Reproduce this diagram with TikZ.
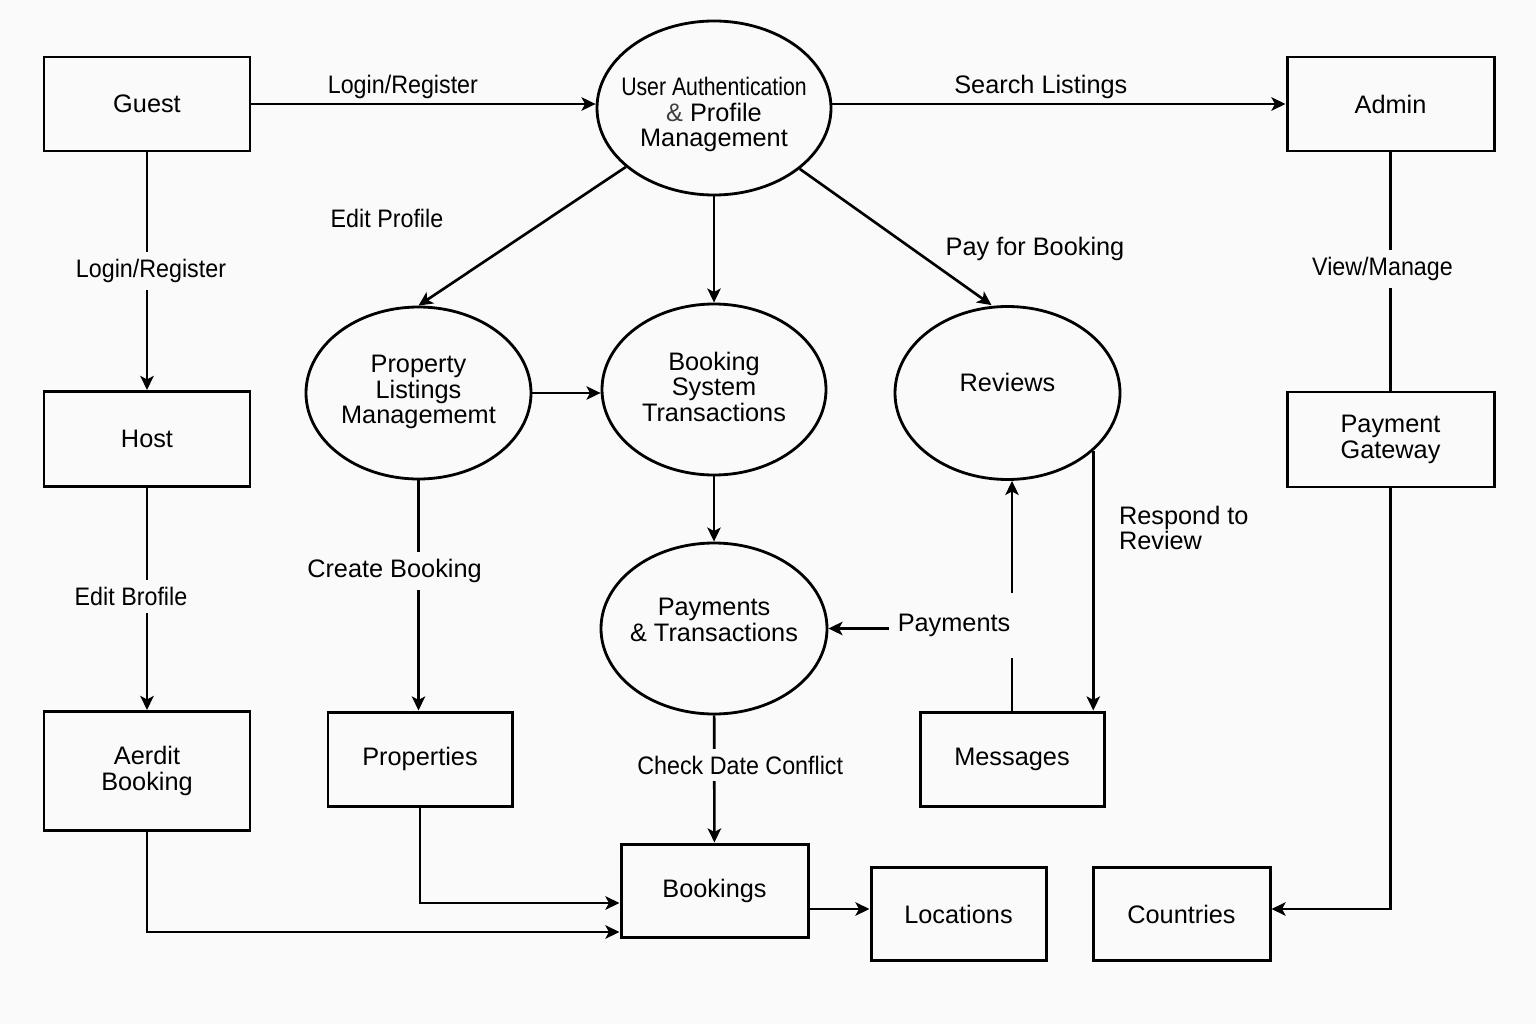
\documentclass[tikz,border=0pt]{standalone}
\usepackage{fontspec}
\setmainfont{Liberation Sans}
\newfontfamily\condfont[FakeStretch=0.92]{Liberation Sans}
\newfontfamily\tightfont[FakeStretch=0.84]{Liberation Sans}
\usetikzlibrary{arrows.meta,shapes.geometric}
\definecolor{paper}{RGB}{250,250,250}
\newcommand{\inell}[2][-0.06cm]{\makebox[0pt]{\raisebox{#1}[0pt][0pt]{\begin{tabular}{@{}c@{}}#2\end{tabular}}}}

\begin{document}
\begin{tikzpicture}[->,>={Stealth[length=4pt,width=3.8pt,inset=1pt]},line width=0.75pt,
  font=\fontsize{7.2}{7.2}\selectfont,
  entity/.style={draw,rectangle,line width=0.85pt,minimum width=2.06cm,minimum height=0.94cm,align=center},
  proc/.style={draw,ellipse,line width=0.8pt,minimum width=2.25cm,minimum height=1.72cm,inner sep=0pt},
  gap/.style={fill=paper,inner sep=2pt}]
%\tikzstyle{every node}=[font=\small]

  \fill[paper] (0,0) rectangle (15.36,10.24);
  \useasboundingbox (0,0) rectangle (15.36,10.24);

  \node[entity]                                          (guest)     at (1.47,9.20)    {Guest};
  \node[entity,minimum height=0.95cm]                    (host)      at (1.47,5.85)    {Host};
  \node[entity,minimum height=1.19cm]                    (aerdit)    at (1.47,2.53)    {Aerdit\\ Booking};
  \node[entity,minimum width=1.84cm]                     (props)     at (4.20,2.65)    {Properties};
  \node[entity,minimum width=1.87cm,minimum height=0.93cm] (bookings) at (7.145,1.335)  {Bookings};
  \node[entity,minimum width=1.75cm,minimum height=0.93cm] (locs)     at (9.585,1.10)   {Locations};
  \node[entity,minimum width=1.77cm,minimum height=0.93cm] (countries) at (11.815,1.10) {Countries};
  \node[entity,minimum width=1.84cm]                     (msgs)      at (10.12,2.65)   {Messages};
  \node[entity,minimum width=2.07cm]                     (admin)     at (13.905,9.20)  {Admin};
  \node[entity,minimum width=2.07cm,minimum height=0.95cm] (gateway)  at (13.905,5.845) {Payment\\ Gateway};

  \node[proc,minimum width=2.34cm,minimum height=1.74cm] (auth) at (7.14,9.16)
       {\inell[-0.14cm]{{\tightfont User Authentication}\\ \textcolor{darkgray}{\&} Profile\\ Management}};
  \node[proc]                                            (listings) at (4.185,6.31) {\inell{Property\\ Listings\\ Managememt}};
  \node[proc,minimum width=2.24cm,minimum height=1.71cm] (booksys)  at (7.14,6.345) {\inell[-0.07cm]{Booking\\ System\\ Transactions}};
  \node[proc,minimum height=1.73cm]                      (reviews)  at (10.075,6.31) {\inell[0.01cm]{Reviews}};
  \node[proc,minimum width=2.26cm,minimum height=1.71cm] (pay)      at (7.14,3.955) {\inell[-0.01cm]{Payments\\ \& Transactions}};

  \coordinate (locin) at ([yshift=0.05cm]locs.west);
  \coordinate (ctyin) at ([yshift=0.05cm]countries.east);

  % top row
  \draw (guest.east) -- (guest.east -| auth.west)
        node[pos=0.44,above,inner sep=1pt] {{\condfont Login/Register}};
  \draw (auth.east |- admin.west) -- (admin.west)
        node[pos=0.46,above,inner sep=1pt] {Search Listings};

  % left column
  \draw (guest) -- (host) node[gap,pos=0.5,xshift=0.04cm] {{\condfont Login/Register}};
  \draw (host) -- (aerdit) node[gap,pos=0.49,xshift=-0.16cm] {{\condfont Edit Brofile}};
  \draw (aerdit.south) |- ([yshift=-4.15mm]bookings.west);
  \draw (props.south) |- ([yshift=-1.25mm]bookings.west);

  % from authentication
  \draw (auth) -- (listings.north);
  \draw (auth) -- (booksys);
  \draw (auth) -- ([xshift=-1.6mm]reviews.north);
  \node (lbledit) at (3.87,8.06) {{\condfont Edit Profile}};
  \node (lblpay)  at (10.35,7.75) {Pay for Booking};

  % middle
  \draw (listings.east) -- (booksys.west |- listings.east);
  \draw (listings.south) -- (listings.south |- props.north)
        node[gap,pos=0.395,xshift=-0.24cm] {Create Booking};
  \draw (booksys) -- (pay);
  \draw (pay) -- (bookings) node[gap,pos=0.39,xshift=0.26cm] {{\condfont Check Date Conflict}};
  \draw (bookings.east |- locin) -- (locin);

  % reviews and messages
  \draw (msgs.north) -- (msgs.north |- reviews.south);
  \node[gap,minimum height=0.65cm] (lblpaym) at (9.54,3.99) {Payments};
  \draw (lblpaym.west |- pay.east) -- (pay.east);
  \draw (reviews.-34) -- (reviews.-34 |- msgs.north);
  \node[anchor=west,align=left] (lblresp) at (11.06,4.96) {Respond to\\ Review};

  % right column
  \draw[-] (admin) -- (gateway) node[gap,pos=0.49,xshift=-0.08cm] {{\condfont View/Manage}};
  \draw (gateway.south) |- (ctyin);
\end{tikzpicture}
\end{document}
